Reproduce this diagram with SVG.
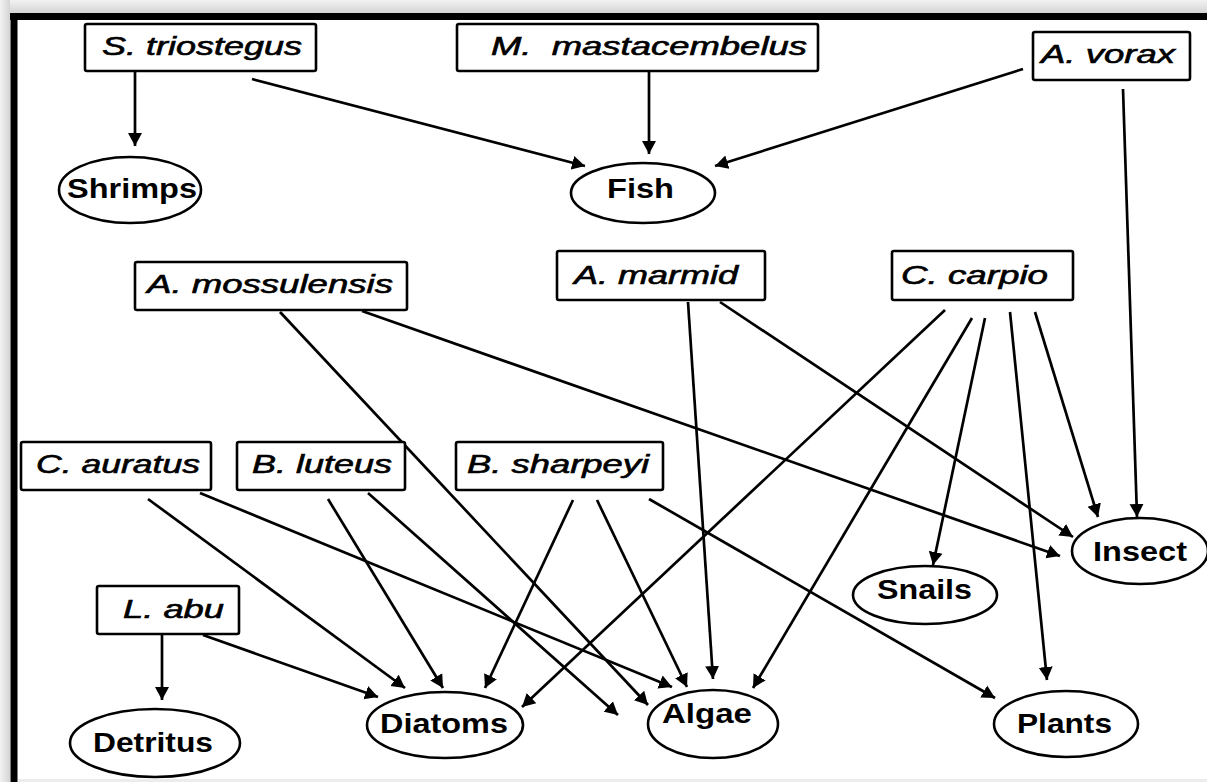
<svg xmlns="http://www.w3.org/2000/svg" width="1207" height="782" viewBox="0 0 1207 782">
<defs>
<linearGradient id="gt" x1="0" y1="0" x2="0" y2="1"><stop offset="0" stop-color="#f2f2f2"/><stop offset="1" stop-color="#d4d4d4"/></linearGradient>
<linearGradient id="gl" x1="0" y1="0" x2="1" y2="0"><stop offset="0" stop-color="#f2f2f2"/><stop offset="1" stop-color="#d4d4d4"/></linearGradient>
<marker id="ah" markerUnits="userSpaceOnUse" markerWidth="14" markerHeight="15" refX="13" refY="7" orient="auto" viewBox="0 0 14 14">
<path d="M0,0 L13,7 L0,14 z" fill="#000"/>
</marker>
</defs>
<style>
.box{fill:#fff;stroke:#000;stroke-width:2.6}
.ell{fill:#fff;stroke:#000;stroke-width:2.6}
.sp{font-family:"Liberation Sans",Arial,sans-serif;font-style:italic;font-size:25px;fill:#000;stroke:#000;stroke-width:0.6}
.fd{font-family:"Liberation Sans",Arial,sans-serif;font-weight:bold;font-size:27px;fill:#000}
.c line{stroke:#000;stroke-width:2.7;marker-end:url(#ah)}
</style>
<rect x="0" y="0" width="1207" height="782" fill="#ffffff"/>
<rect x="0" y="0" width="1207" height="13" fill="url(#gt)"/>
<rect x="0" y="0" width="10" height="782" fill="url(#gl)"/>
<rect x="18" y="779" width="1189" height="3" fill="#ececec"/>
<line x1="10" y1="16.5" x2="1207" y2="16.5" stroke="#000" stroke-width="7"/>
<line x1="14" y1="13" x2="14" y2="782" stroke="#000" stroke-width="7"/>

<g class="c" id="connectors">
<line x1="135" y1="72" x2="135" y2="146"/>
<line x1="252" y1="79" x2="585" y2="166"/>
<line x1="649" y1="72" x2="649" y2="154"/>
<line x1="1023" y1="69" x2="715" y2="166"/>
<line x1="1123" y1="89" x2="1137" y2="517"/>
<line x1="280" y1="312" x2="648" y2="705"/>
<line x1="362" y1="311" x2="1060" y2="556"/>
<line x1="688" y1="302" x2="713" y2="679"/>
<line x1="720" y1="302" x2="1073" y2="537"/>
<line x1="945" y1="310" x2="522" y2="707"/>
<line x1="972" y1="318" x2="753" y2="688"/>
<line x1="985" y1="318" x2="933" y2="565"/>
<line x1="1010" y1="312" x2="1047" y2="680"/>
<line x1="1035" y1="312" x2="1098" y2="517"/>
<line x1="148" y1="499" x2="405" y2="688"/>
<line x1="200" y1="493" x2="672" y2="687"/>
<line x1="328" y1="499" x2="443" y2="688"/>
<line x1="368" y1="493" x2="618" y2="715"/>
<line x1="573" y1="500" x2="485" y2="688"/>
<line x1="597" y1="500" x2="687" y2="687"/>
<line x1="649" y1="499" x2="995" y2="698"/>
<line x1="162" y1="635" x2="162" y2="700"/>
<line x1="203" y1="635" x2="378" y2="697"/>
</g>

<g id="s-triostegus"><rect class="box" x="85" y="24" width="231" height="47" rx="2"/><text class="sp" x="102" y="55" textLength="200" lengthAdjust="spacingAndGlyphs">S. triostegus</text></g>
<g id="m-mastacembelus"><rect class="box" x="457" y="24" width="361" height="47" rx="2"/><text class="sp" x="491" y="55" textLength="316" lengthAdjust="spacingAndGlyphs" xml:space="preserve">M.  mastacembelus</text></g>
<g id="a-vorax"><rect class="box" x="1033" y="32" width="157" height="48" rx="2"/><text class="sp" x="1041" y="63" textLength="134" lengthAdjust="spacingAndGlyphs">A. vorax</text></g>
<g id="a-mossulensis"><rect class="box" x="135" y="262" width="272" height="48" rx="2"/><text class="sp" x="147" y="293" textLength="246" lengthAdjust="spacingAndGlyphs">A. mossulensis</text></g>
<g id="a-marmid"><rect class="box" x="557" y="251" width="208" height="49" rx="2"/><text class="sp" x="574" y="284" textLength="164" lengthAdjust="spacingAndGlyphs">A. marmid</text></g>
<g id="c-carpio"><rect class="box" x="892" y="251" width="181" height="49" rx="2"/><text class="sp" x="901" y="284" textLength="147" lengthAdjust="spacingAndGlyphs">C. carpio</text></g>
<g id="c-auratus"><rect class="box" x="21" y="442" width="190" height="48" rx="2"/><text class="sp" x="36" y="473" textLength="164" lengthAdjust="spacingAndGlyphs">C. auratus</text></g>
<g id="b-luteus"><rect class="box" x="237" y="442" width="168" height="48" rx="2"/><text class="sp" x="252" y="473" textLength="140" lengthAdjust="spacingAndGlyphs">B. luteus</text></g>
<g id="b-sharpeyi"><rect class="box" x="456" y="442" width="207" height="48" rx="2"/><text class="sp" x="467" y="473" textLength="182" lengthAdjust="spacingAndGlyphs">B. sharpeyi</text></g>
<g id="l-abu"><rect class="box" x="97" y="586" width="142" height="48" rx="2"/><text class="sp" x="123" y="618" textLength="101" lengthAdjust="spacingAndGlyphs">L. abu</text></g>

<g id="shrimps"><ellipse class="ell" cx="130" cy="190" rx="71" ry="33"/><text class="fd" x="67" y="198" textLength="130" lengthAdjust="spacingAndGlyphs">Shrimps</text></g>
<g id="fish"><ellipse class="ell" cx="643" cy="193" rx="72" ry="30"/><text class="fd" x="607" y="198" textLength="67" lengthAdjust="spacingAndGlyphs">Fish</text></g>
<g id="insect"><ellipse class="ell" cx="1140" cy="551" rx="68" ry="33"/><text class="fd" x="1093" y="561" textLength="94" lengthAdjust="spacingAndGlyphs">Insect</text></g>
<g id="snails"><ellipse class="ell" cx="925" cy="595" rx="72" ry="29"/><text class="fd" x="877" y="599" textLength="95" lengthAdjust="spacingAndGlyphs">Snails</text></g>
<g id="plants"><ellipse class="ell" cx="1066" cy="724" rx="72" ry="33"/><text class="fd" x="1017" y="733" textLength="95" lengthAdjust="spacingAndGlyphs">Plants</text></g>
<g id="diatoms"><ellipse class="ell" cx="445" cy="725" rx="78" ry="33"/><text class="fd" x="380" y="733" textLength="128" lengthAdjust="spacingAndGlyphs">Diatoms</text></g>
<g id="algae"><ellipse class="ell" cx="713" cy="724" rx="65" ry="34"/><text class="fd" x="662" y="723" textLength="90" lengthAdjust="spacingAndGlyphs">Algae</text></g>
<g id="detritus"><ellipse class="ell" cx="155" cy="743" rx="85" ry="34"/><text class="fd" x="93" y="752" textLength="120" lengthAdjust="spacingAndGlyphs">Detritus</text></g>
</svg>
